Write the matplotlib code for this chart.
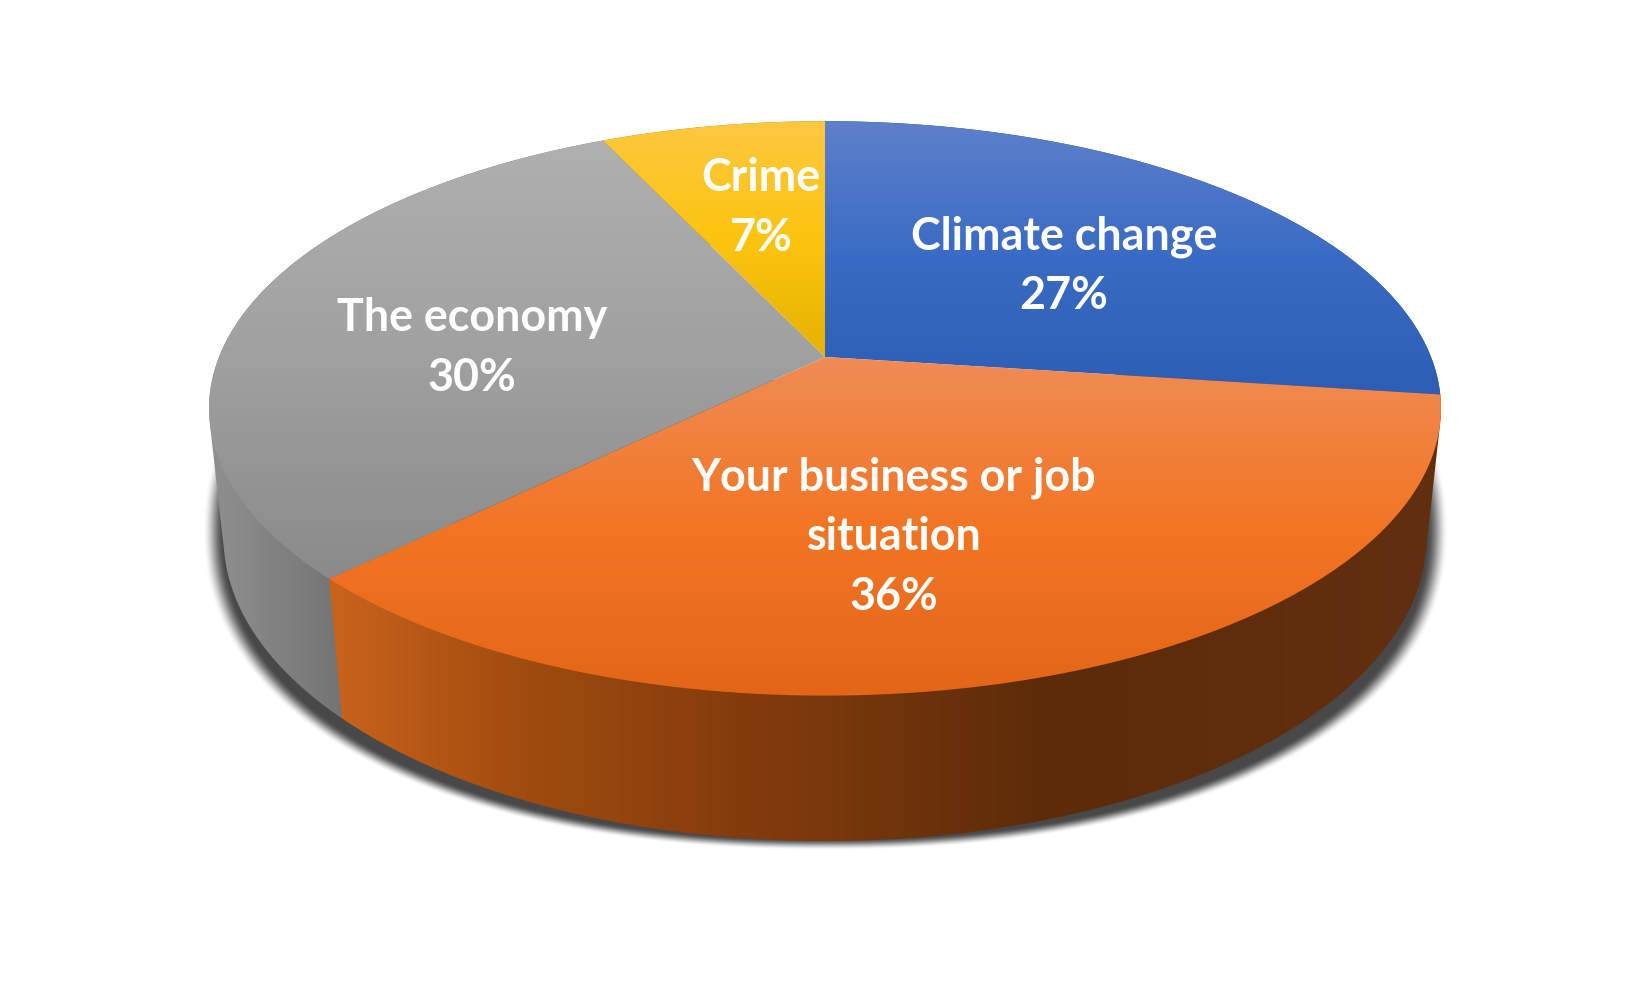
import numpy as np
import matplotlib
matplotlib.use("Agg")
import matplotlib.pyplot as plt
from matplotlib.path import Path
from matplotlib.patches import PathPatch

categories = ["Climate change", "Your business or job\nsituation", "The economy", "Crime"]
values = [27.1, 35.6, 30.3, 7.0]

LABEL_XY = [(1064, 266), (894, 537), (472, 348), (761, 208)]
TOP_STOPS = [
    [(94, 128, 203), (58, 107, 196), (45, 93, 180)],
    [(240, 140, 85), (243, 117, 36), (227, 102, 24)],
    [(176, 176, 176), (160, 160, 160), (138, 138, 138)],
    [(253, 200, 64), (252, 196, 15), (228, 178, 0)],
]
WALL_STOPS = [
    [(1000, (35, 62, 120)), (1450, (35, 62, 120))],
    [(329, (202, 99, 28)), (526, (160, 75, 15)), (736, (133, 60, 13)),
     (1052, (92, 43, 9)), (1441, (98, 48, 16))],
    [(205, (145, 145, 145)), (345, (115, 115, 115))],
    [(600, (150, 118, 20)), (830, (150, 118, 20))],
]
WALL_ORDER = [3, 0, 2, 1]

CX, CY, A, B, D, K, M = 825.0, 357.0, 606.0, 278.0, 130.7, 0.179, 0.0234


def project(theta_deg, z):
    t = np.radians(theta_deg)
    u, v = np.sin(t), np.cos(t)
    w = 1 + K * v + M * z
    return CX + A * u / w, CY + (-B * v + D * z) / w


def hull(points):
    pts = sorted(map(tuple, points))

    def half(seq):
        out = []
        for p in seq:
            while len(out) > 1 and ((out[-1][0] - out[-2][0]) * (p[1] - out[-2][1])
                                    - (out[-1][1] - out[-2][1]) * (p[0] - out[-2][0])) <= 0:
                out.pop()
            out.append(p)
        return out[:-1]

    return np.array(half(pts) + half(pts[::-1]))


def clipped_gradient(ax, verts, rgb, zorder):
    path = Path(np.vstack([verts, verts[0]]), closed=True)
    x0, y0 = verts.min(axis=0)
    x1, y1 = verts.max(axis=0)
    im = ax.imshow(rgb, extent=(x0 - 1, x1 + 1, y1 + 1, y0 - 1), aspect="auto",
                   interpolation="bilinear", zorder=zorder)
    im.set_clip_path(PathPatch(path, transform=ax.transData))


fig = plt.figure(figsize=(16.5, 9.9), dpi=100, facecolor="white")
ax = fig.add_axes([0, 0, 1, 1])

# soft shadow behind the body
yy, xx = np.mgrid[380:880, 170:1480]
d = (np.abs((xx - 825) / 606.0) ** 2.2 + np.abs((yy - 530) / 311.0) ** 2.2) ** (1 / 2.2)
alpha = np.clip((1.028 - d) / 0.036, 0, 1)
alpha = alpha * alpha * (3 - 2 * alpha) * 0.72
sh = np.zeros(alpha.shape + (4,))
sh[..., 3] = alpha
ax.imshow(sh, extent=(170, 1480, 880, 380), aspect="auto", zorder=1)

edges = np.concatenate([[0], np.cumsum(values)]) * 3.6

# walls first, back to front, then the top face
for rank, i in enumerate(WALL_ORDER):
    th = np.linspace(edges[i], edges[i + 1], 200)
    top = np.column_stack(project(th, 0))
    bot = np.column_stack(project(th, 1))
    verts = hull(np.vstack([top, bot]))
    xs = np.linspace(verts[:, 0].min() - 1, verts[:, 0].max() + 1, 400)
    px = [s[0] for s in WALL_STOPS[i]]
    grad = np.stack([np.interp(xs, px, [s[1][c] for s in WALL_STOPS[i]]) for c in range(3)], axis=-1) / 255
    clipped_gradient(ax, verts, grad[None, :, :], 2 + rank * 0.1)

for i in range(len(values)):
    th = np.linspace(edges[i], edges[i + 1], 300)
    arc = np.column_stack(project(th, 0))
    verts = np.vstack([[CX, CY], arc])
    t = np.linspace(0, 1, 300)
    grad = np.stack([np.interp(t, [0, 0.5, 1], [s[c] for s in TOP_STOPS[i]]) for c in range(3)], axis=-1) / 255
    clipped_gradient(ax, verts, grad[:, None, :], 4 + i * 0.1)

for name, val, (x, y) in zip(categories, values, LABEL_XY):
    ax.text(x, y, f"{name}\n{val:.0f}%", color="white", family="Lato", weight="bold",
            fontsize=32.3, ha="center", va="center", multialignment="center",
            linespacing=1.51, zorder=6)

ax.set_xlim(0, 1650)
ax.set_ylim(990, 0)
ax.axis("off")
fig.savefig("out.png", dpi=100, facecolor="white")
